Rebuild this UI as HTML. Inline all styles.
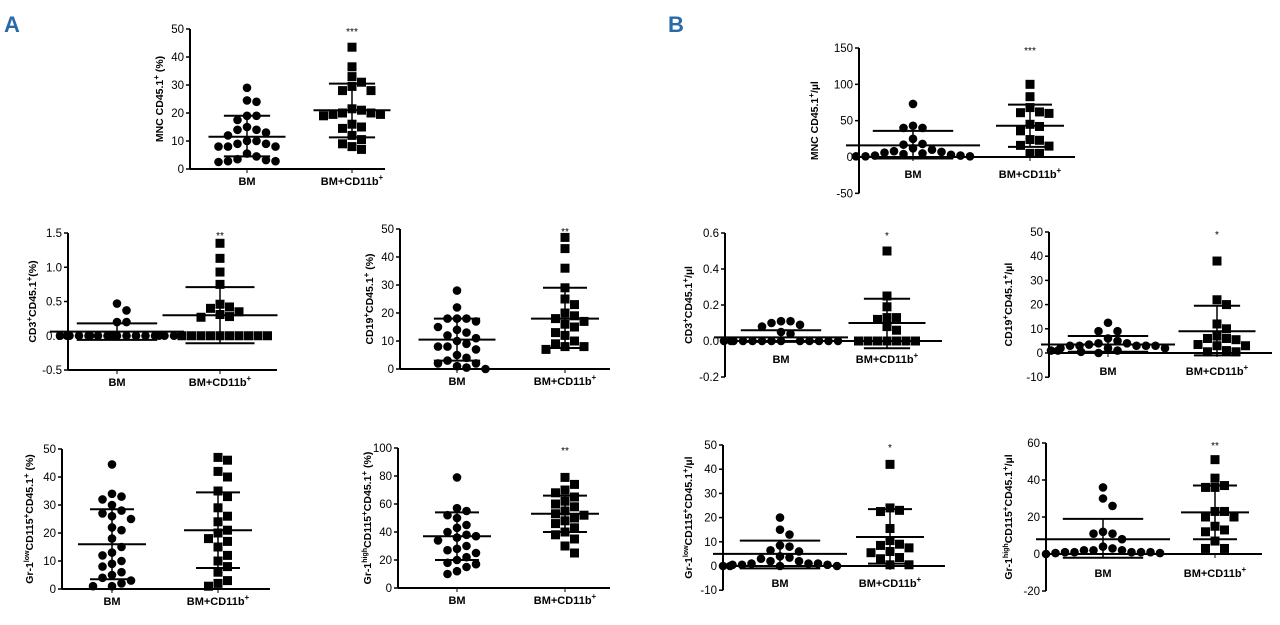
<!DOCTYPE html>
<html><head><meta charset="utf-8"><style>
body{margin:0;background:#fff;width:1280px;height:620px;overflow:hidden}
svg text{font-family:"Liberation Sans",sans-serif;fill:#000}
</style></head><body>
<svg id="s" width="1280" height="620" xmlns="http://www.w3.org/2000/svg">
<text x="4" y="32" font-size="22" font-weight="bold" style="fill:#2a6aa8">A</text>
<text x="668" y="32" font-size="22" font-weight="bold" style="fill:#2a6aa8">B</text>
</svg>
<script>
const S=document.getElementById('s');let h='';
function P(c){
 const ax=c.ax, y=v=>c.y0+(v-c.v0)*(c.y1-c.y0)/(c.v1-c.v0);
 const base=y(c.xl), vm=c.vm!==undefined?c.vm:c.v0;
 h+=`<line x1="${ax}" y1="${c.y1}" x2="${ax}" y2="${y(vm)}" stroke="#000" stroke-width="2"/>`;
 h+=`<line x1="${ax}" y1="${base}" x2="${c.xe}" y2="${base}" stroke="#000" stroke-width="2"/>`;
 for(const t of c.ticks){const ty=y(t);h+=`<line x1="${ax-4}" y1="${ty}" x2="${ax}" y2="${ty}" stroke="#000" stroke-width="1.5"/><text x="${ax-6}" y="${ty+4}" font-size="11.5" text-anchor="end">${c.fmt?t.toFixed(c.fmt):t}</text>`;}
 const ly=c.ly||base+16;
 [[c.g[0],'BM'],[c.g[1],'BM+CD11b<tspan font-size="8" dy="-5">+</tspan>']].forEach(([gx,l])=>{h+=`<line x1="${gx}" y1="${base}" x2="${gx}" y2="${base+4}" stroke="#000"/><text x="${gx}" y="${ly}" font-size="11" font-weight="bold" text-anchor="middle">${l}</text>`});
 h+=`<text transform="translate(${c.lx},${(c.y1+y(vm))/2}) rotate(-90)" font-size="10.5" font-weight="bold" text-anchor="middle">${c.lab}</text>`;
 if(c.star)h+=`<text x="${c.g[1]}" y="${c.y1+6}" font-size="10" text-anchor="middle">${c.star}</text>`;
 c.d.forEach((vals,gi)=>{const gx=c.g[gi];
  const m=c.st[gi];const placed=[];let mx=0;let ov=0;
  [...vals].sort((a,b)=>b-a).forEach(v=>{const py=y(v);let o=null;
   for(let k=0;k<13;k++){const oo=(k%2?1:-1)*Math.ceil(k/2)*9.5;
    if(placed.every(p=>Math.hypot(p[0]-oo,p[1]-py)>=9)){o=oo;break;}}
   if(o===null){o=((ov*23)%100)-50;ov++;}
   placed.push([o,py]);mx=Math.max(mx,Math.abs(o));
   const px=gx+o;
   h+= gi==0?`<circle cx="${px}" cy="${py}" r="4.3"/>`:`<rect x="${px-4.5}" y="${py-4.5}" width="9" height="9"/>`;
  });
  const hw=Math.max(34,mx+10),cw=Math.max(22,hw*0.6);
  h+=`<line x1="${gx-hw}" y1="${y(m[0])}" x2="${gx+hw}" y2="${y(m[0])}" stroke="#000" stroke-width="2"/>`;
  h+=`<line x1="${gx}" y1="${y(m[1])}" x2="${gx}" y2="${y(m[2])}" stroke="#000" stroke-width="1.5"/>`;
  h+=`<line x1="${gx-cw}" y1="${y(m[1])}" x2="${gx+cw}" y2="${y(m[1])}" stroke="#000" stroke-width="2"/><line x1="${gx-cw}" y1="${y(m[2])}" x2="${gx+cw}" y2="${y(m[2])}" stroke="#000" stroke-width="2"/>`;
 });
}
const A1=[29,24,24.5,19,17.5,19,14,13,12,14,15,10,9,8,8,8,9,10,5.5,3.5,2.8,2.5,2.8,3.2,4.5],
A2=[43.5,36.5,33,31,29.5,28,28,21,20,19.5,19,19.5,20,21.5,16,14.5,15,12,10.5,9,8,7];
P({ax:190,y0:169,v0:0,y1:29,v1:50,xl:0,xe:385,ticks:[0,10,20,30,40,50],g:[247,352],lx:163,lab:'MNC CD45.1<tspan dy="-4" font-size="8">+</tspan><tspan dy="4"> (%)</tspan>',star:'***',d:[A1,A2],st:[[11.5,19,4.5],[21,30.5,11.3]]});
P({ax:68,y0:370,v0:-0.5,y1:233,v1:1.5,xl:-0.5,xe:277,ticks:[-0.5,0,0.5,1,1.5],fmt:1,g:[117,220],lx:36,ly:386,lab:'CD3<tspan dy="-4" font-size="8">+</tspan><tspan dy="4">CD45.1</tspan><tspan dy="-4" font-size="8">+</tspan><tspan dy="4">(%)</tspan>',star:'**',d:[[0.47,0.37,0.2,0.2,0,0,0,0,0,0,0,0,0,0,0,0,0,0,0,0,0,0],[1.35,1.13,0.93,0.75,0.46,0.35,0.4,0.42,0.28,0.27,0.31,0,0,0,0,0,0,0,0,0,0]],st:[[0.06,0.18,-0.06],[0.3,0.71,-0.11]]});
P({ax:400,y0:369,v0:0,y1:229,v1:50,xl:0,xe:610,ticks:[0,10,20,30,40,50],g:[457,565],lx:373,lab:'CD19<tspan dy="-4" font-size="8">+</tspan><tspan dy="4">CD45.1</tspan><tspan dy="-4" font-size="8">+</tspan><tspan dy="4"> (%)</tspan>',star:'**',d:[[28,22,18,18,18,17,15,14,13,12,11,10,9,8,8,7,5,4,3,2,2,1,0.5,0],[47,43,36,29,25,23,20,19,18,17,16,15,13,12,10,9,8,8,7]],st:[[10.5,18,3],[18,29,7.5]]});
P({ax:62,y0:589,v0:0,y1:449,v1:50,xl:0,xe:270,ticks:[0,10,20,30,40,50],g:[112,218],lx:33,lab:'Gr-1<tspan dy="-4" font-size="7">low</tspan><tspan dy="4">CD115</tspan><tspan dy="-4" font-size="8">+</tspan><tspan dy="4">CD45.1</tspan><tspan dy="-4" font-size="8">+</tspan><tspan dy="4"> (%)</tspan>',d:[[44.5,34,33,32,30,28,27,26,25,22,21,18,15,13,12,10,9,8,6,5,4,3,2,1,1],[47,46,42,40,35,33,29,26,24,21,20,18,17,15,12,10,8,6,3,2,1]],st:[[16,28.5,3.5],[21,34.5,7.5]]});
P({ax:398,y0:588,v0:0,y1:448,v1:100,xl:0,xe:610,ticks:[0,20,40,60,80,100],g:[457,565],lx:371,lab:'Gr-1<tspan dy="-4" font-size="7">high</tspan><tspan dy="4">CD115</tspan><tspan dy="-4" font-size="8">+</tspan><tspan dy="4">CD45.1</tspan><tspan dy="-4" font-size="8">+</tspan><tspan dy="4"> (%)</tspan>',star:'**',d:[[79,57,55,52,50,45,43,40,38,37,36,34,30,28,27,25,22,20,18,17,15,12,10],[79,74,70,68,65,62,60,58,55,53,52,50,48,46,43,40,38,35,30,25]],st:[[37,54,20],[53,66,40]]});
P({ax:859,y0:157,v0:0,y1:48,v1:150,vm:-50,xl:0,xe:1075,ticks:[-50,0,50,100,150],g:[913,1030],lx:818,ly:178,lab:'MNC CD45.1<tspan dy="-4" font-size="8">+</tspan><tspan dy="4">/µl</tspan>',star:'***',d:[[73,43,40,40,25,18,17,12,10,8,7,6,5,4,3,2,2,1,1,1],[100,83,68,62,61,60,45,42,36,24,23,16,15,5,5]],st:[[16,36,-2],[43,72,14]]});
P({ax:725,y0:341,v0:0,y1:233,v1:0.6,vm:-0.2,xl:0,xe:942,ticks:[-0.2,0,0.2,0.4,0.6],fmt:1,g:[781,887],lx:692,ly:363,lab:'CD3<tspan dy="-4" font-size="8">+</tspan><tspan dy="4">CD45.1</tspan><tspan dy="-4" font-size="8">+</tspan><tspan dy="4">/µl</tspan>',star:'*',d:[[0.11,0.11,0.1,0.09,0.08,0.05,0.04,0,0,0,0,0,0,0,0,0,0,0,0,0],[0.5,0.25,0.19,0.13,0.13,0.12,0.08,0.06,0,0,0,0,0,0,0]],st:[[0.02,0.06,-0.005],[0.1,0.235,-0.04]]});
P({ax:1049,y0:353,v0:0,y1:232,v1:50,vm:-10,xl:0,xe:1272,ticks:[-10,0,10,20,30,40,50],g:[1108,1217],lx:1012,ly:375,lab:'CD19<tspan dy="-4" font-size="8">+</tspan><tspan dy="4">CD45.1</tspan><tspan dy="-4" font-size="8">+</tspan><tspan dy="4">/µl</tspan>',star:'*',d:[[12.5,9,9,6,5,4,4,3,3,3,3,3,2,2,2,1,1,1,0.5,0,3.5],[38,22,20,12,10,7,6,6,5.5,3.5,3,3,1,0.5,0.5]],st:[[3.5,7,0.5],[9,19.5,-1]]});
P({ax:723,y0:566,v0:0,y1:445,v1:50,vm:-10,xl:0,xe:945,ticks:[-10,0,10,20,30,40,50],g:[780,890],lx:692,ly:587,lab:'Gr-1<tspan dy="-4" font-size="7">low</tspan><tspan dy="4">CD115</tspan><tspan dy="-4" font-size="8">+</tspan><tspan dy="4">CD45.1</tspan><tspan dy="-4" font-size="8">+</tspan><tspan dy="4">/µl</tspan>',star:'*',d:[[20,15,13,8.5,8,6.5,6,4,3.5,3,2,2,1,1,1,0.5,0.5,0.5,0,0,0,0],[42,24,23,22.5,15.5,10.5,9,8.5,7.5,6,5.5,3.5,3,0.5,0.5]],st:[[5,10.5,-1],[12,23.5,1]]});
P({ax:1046,y0:554,v0:0,y1:443,v1:60,vm:-20,xl:0,xe:1262,ticks:[-20,0,20,40,60],g:[1103,1215],lx:1012,ly:577,lab:'Gr-1<tspan dy="-4" font-size="7">high</tspan><tspan dy="4">CD115</tspan><tspan dy="-4" font-size="8">+</tspan><tspan dy="4">CD45.1</tspan><tspan dy="-4" font-size="8">+</tspan><tspan dy="4">/µl</tspan>',star:'**',d:[[36,30,26,12,11,11,8,4,3,2,2,2,1,1,1,1,1,0.5,0.5,0],[51,41,37,36,36,23,23,20,20,15,13,12,7,3,3]],st:[[8,19,-2],[22.5,37,8]]});
S.insertAdjacentHTML('beforeend',h);
</script>
</body></html>
